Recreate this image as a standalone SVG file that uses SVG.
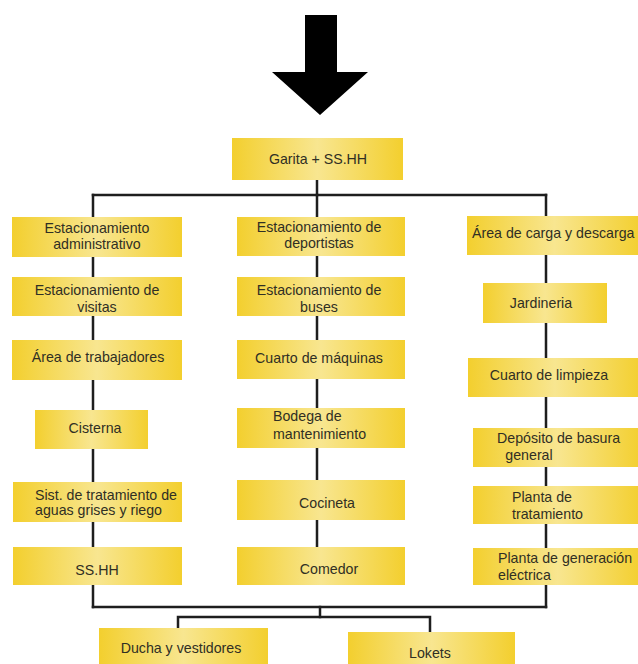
<svg xmlns="http://www.w3.org/2000/svg" width="638" height="664" viewBox="0 0 638 664">
  <defs>
    <linearGradient id="boxFill" x1="0" y1="0" x2="1" y2="0">
      <stop offset="0" stop-color="#f3cf2e"/>
      <stop offset="0.5" stop-color="#f8e690"/>
      <stop offset="1" stop-color="#f3cf2e"/>
    </linearGradient>
  </defs>
  <style>
    .box { fill: url(#boxFill); }
    .lbl { font-family: "Liberation Sans", Arial, sans-serif; font-size: 14.2px; fill: #302f24; }
    .mid { text-anchor: middle; }
    .wire { fill: none; stroke: #1e1e1e; stroke-width: 2.5; stroke-linecap: square; }
  </style>

  <rect width="638" height="664" fill="#ffffff"/>

  <!-- entrance arrow -->
  <polygon id="entrance-arrow" points="305,15 337,15 337,72 368,72 320,115 272,72 305,72" fill="#000000"/>

  <!-- connectors -->
  <g id="connectors" class="wire">
    <path d="M317,180 V195"/>
    <path d="M93,195 H546"/>
    <path d="M93,195 V607"/>
    <path d="M317,195 V547"/>
    <path d="M546,195 V607"/>
    <path d="M93,607 H546"/>
    <path d="M320,607 V617"/>
    <path d="M178,628 V617 H430 V632"/>
  </g>

  <!-- top node -->
  <g id="garita">
    <rect class="box" x="232" y="138" width="171" height="42"/>
    <text class="lbl mid" x="318" y="164">Garita + SS.HH</text>
  </g>

  <!-- left column -->
  <g id="est-administrativo">
    <rect class="box" x="12" y="217" width="170" height="40"/>
    <text class="lbl mid" x="97" y="233">Estacionamiento</text>
    <text class="lbl mid" x="97" y="249">administrativo</text>
  </g>
  <g id="est-visitas">
    <rect class="box" x="12" y="277" width="170" height="39"/>
    <text class="lbl mid" x="97" y="295">Estacionamiento de</text>
    <text class="lbl mid" x="97" y="312">visitas</text>
  </g>
  <g id="area-trabajadores">
    <rect class="box" x="12" y="340" width="170" height="40"/>
    <text class="lbl mid" x="98" y="362">Área de trabajadores</text>
  </g>
  <g id="cisterna">
    <rect class="box" x="35" y="410" width="113" height="39"/>
    <text class="lbl mid" x="95" y="433">Cisterna</text>
  </g>
  <g id="sist-tratamiento">
    <rect class="box" x="13" y="482" width="169" height="40"/>
    <text class="lbl" x="35" y="500">Sist. de tratamiento de</text>
    <text class="lbl" x="35" y="515">aguas grises y riego</text>
  </g>
  <g id="sshh">
    <rect class="box" x="13" y="547" width="169" height="38"/>
    <text class="lbl mid" x="97" y="575">SS.HH</text>
  </g>

  <!-- middle column -->
  <g id="est-deportistas">
    <rect class="box" x="237" y="217" width="168" height="39"/>
    <text class="lbl mid" x="319" y="232">Estacionamiento de</text>
    <text class="lbl mid" x="319" y="248">deportistas</text>
  </g>
  <g id="est-buses">
    <rect class="box" x="237" y="277" width="168" height="39"/>
    <text class="lbl mid" x="319" y="295">Estacionamiento de</text>
    <text class="lbl mid" x="319" y="312">buses</text>
  </g>
  <g id="cuarto-maquinas">
    <rect class="box" x="237" y="340" width="168" height="39"/>
    <text class="lbl mid" x="319" y="363">Cuarto de máquinas</text>
  </g>
  <g id="bodega">
    <rect class="box" x="237" y="408" width="168" height="40"/>
    <text class="lbl" x="273" y="421">Bodega de</text>
    <text class="lbl" x="273" y="439">mantenimiento</text>
  </g>
  <g id="cocineta">
    <rect class="box" x="237" y="480" width="168" height="40"/>
    <text class="lbl mid" x="327" y="508">Cocineta</text>
  </g>
  <g id="comedor">
    <rect class="box" x="237" y="547" width="168" height="38"/>
    <text class="lbl mid" x="329" y="574">Comedor</text>
  </g>

  <!-- right column -->
  <g id="area-carga">
    <rect class="box" x="467" y="216" width="175" height="39"/>
    <text class="lbl" x="472" y="238">Área de carga y descarga</text>
  </g>
  <g id="jardineria">
    <rect class="box" x="483" y="283" width="124" height="40"/>
    <text class="lbl mid" x="541" y="308">Jardineria</text>
  </g>
  <g id="cuarto-limpieza">
    <rect class="box" x="468" y="358" width="174" height="39"/>
    <text class="lbl mid" x="549" y="380">Cuarto de limpieza</text>
  </g>
  <g id="deposito-basura">
    <rect class="box" x="473" y="428" width="169" height="39"/>
    <text class="lbl" x="497" y="443">Depósito de basura</text>
    <text class="lbl mid" x="529" y="460">general</text>
  </g>
  <g id="planta-tratamiento">
    <rect class="box" x="473" y="486" width="169" height="38"/>
    <text class="lbl" x="512" y="502">Planta de</text>
    <text class="lbl" x="512" y="519">tratamiento</text>
  </g>
  <g id="planta-generacion">
    <rect class="box" x="473" y="548" width="169" height="37"/>
    <text class="lbl" x="498" y="563">Planta de generación</text>
    <text class="lbl" x="498" y="580">eléctrica</text>
  </g>

  <!-- bottom row -->
  <g id="ducha-vestidores">
    <rect class="box" x="99" y="628" width="169" height="40"/>
    <text class="lbl mid" x="181" y="653">Ducha y vestidores</text>
  </g>
  <g id="lokets">
    <rect class="box" x="348" y="632" width="167" height="36"/>
    <text class="lbl mid" x="430" y="658">Lokets</text>
  </g>
</svg>
